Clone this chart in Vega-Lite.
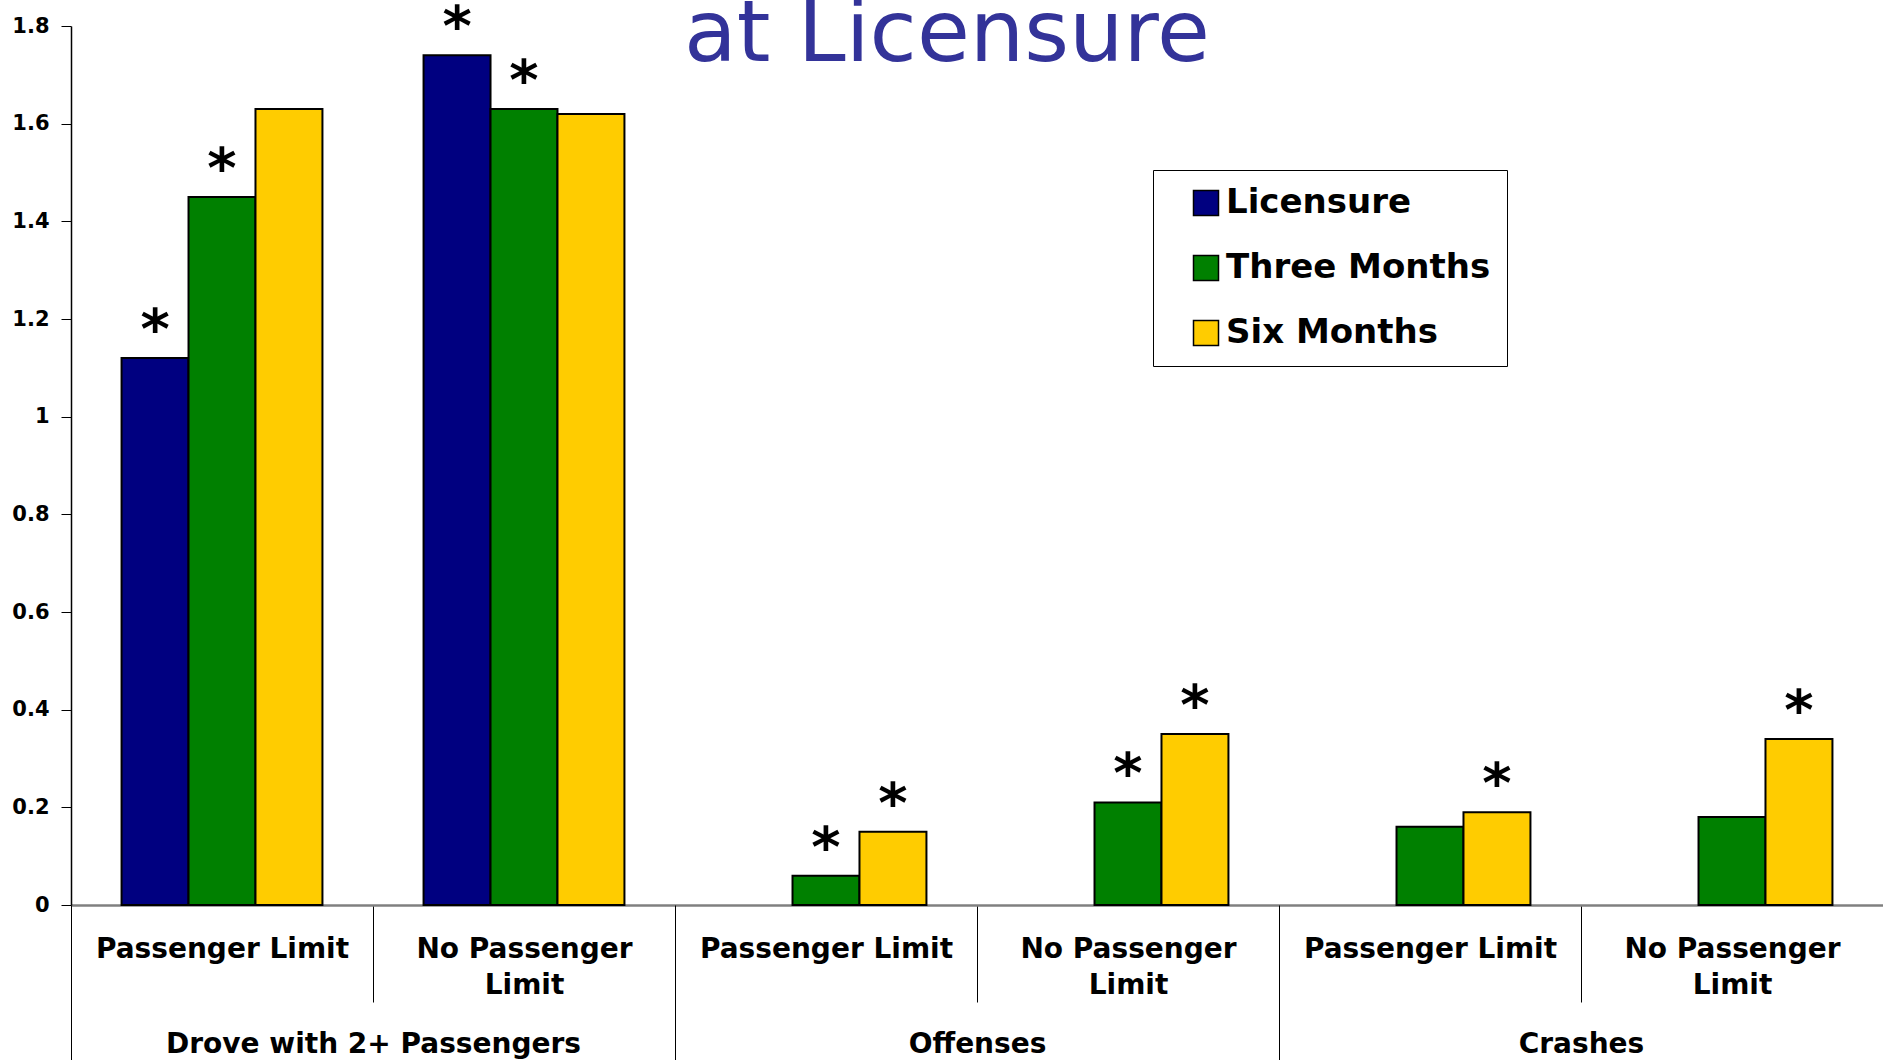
{
  "$schema": "https://vega.github.io/schema/vega-lite/v6.json",
  "width": 1812,
  "height": 879,
  "autosize": {"type": "none"},
  "padding": {"left": 71, "top": 26, "right": 0, "bottom": 155},
  "background": "white",
  "title": {
    "text": "at Licensure",
    "anchor": "middle",
    "font": "DejaVu Sans",
    "fontSize": 86,
    "fontWeight": "normal",
    "color": "#333399",
    "baseline": "bottom",
    "offset": -165,
    "dx": -30
  },
  "config": {
    "font": "DejaVu Sans",
    "view": {"stroke": null}
  },
  "data": {
    "values": [
      {"cat": "Drove with 2+ Passengers|Passenger Limit", "series": "Licensure", "value": 1.12, "star": true},
      {"cat": "Drove with 2+ Passengers|Passenger Limit", "series": "Three Months", "value": 1.45, "star": true},
      {"cat": "Drove with 2+ Passengers|Passenger Limit", "series": "Six Months", "value": 1.63, "star": false},
      {"cat": "Drove with 2+ Passengers|No Passenger Limit", "series": "Licensure", "value": 1.74, "star": true},
      {"cat": "Drove with 2+ Passengers|No Passenger Limit", "series": "Three Months", "value": 1.63, "star": true},
      {"cat": "Drove with 2+ Passengers|No Passenger Limit", "series": "Six Months", "value": 1.62, "star": false},
      {"cat": "Offenses|Passenger Limit", "series": "Three Months", "value": 0.06, "star": true},
      {"cat": "Offenses|Passenger Limit", "series": "Six Months", "value": 0.15, "star": true},
      {"cat": "Offenses|No Passenger Limit", "series": "Three Months", "value": 0.21, "star": true},
      {"cat": "Offenses|No Passenger Limit", "series": "Six Months", "value": 0.35, "star": true},
      {"cat": "Crashes|Passenger Limit", "series": "Three Months", "value": 0.16, "star": false},
      {"cat": "Crashes|Passenger Limit", "series": "Six Months", "value": 0.19, "star": true},
      {"cat": "Crashes|No Passenger Limit", "series": "Three Months", "value": 0.18, "star": false},
      {"cat": "Crashes|No Passenger Limit", "series": "Six Months", "value": 0.34, "star": true}
    ]
  },
  "encoding": {
    "y": {
      "field": "value",
      "type": "quantitative",
      "scale": {"domain": [0, 1.8], "nice": false, "zero": true},
      "axis": {
        "title": null,
        "grid": false,
        "values": [0, 0.2, 0.4, 0.6, 0.8, 1, 1.2, 1.4, 1.6, 1.8],
        "format": ".1~f",
        "labelFont": "DejaVu Sans",
        "labelFontWeight": "bold",
        "labelFontSize": 21,
        "labelColor": "black",
        "labelPadding": 12,
        "tickSize": 10,
        "tickColor": "black",
        "domainColor": "black",
        "domainWidth": 1.5
      }
    },
    "xOffset": {
      "field": "series",
      "type": "nominal",
      "scale": {"domain": ["Licensure", "Three Months", "Six Months"], "paddingInner": 0, "paddingOuter": 0.755}
    }
  },
  "layer": [
    {
      "mark": {"type": "bar", "stroke": "black", "strokeWidth": 2},
      "encoding": {
        "x": {
          "field": "cat",
          "type": "nominal",
          "scale": {
            "domain": [
              "Drove with 2+ Passengers|Passenger Limit",
              "Drove with 2+ Passengers|No Passenger Limit",
              "Offenses|Passenger Limit",
              "Offenses|No Passenger Limit",
              "Crashes|Passenger Limit",
              "Crashes|No Passenger Limit"
            ],
            "paddingInner": 0,
            "paddingOuter": 0
          },
          "axis": {
            "orient": "bottom",
            "title": null,
            "tickBand": "extent",
            "tickSize": 97,
            "tickColor": "black",
            "tickWidth": 1,
            "domainColor": "#808080",
            "domainWidth": 2.5,
            "labelAngle": 0,
            "labelExpr": "!isString(datum.value) ? '' : (indexof(datum.value, '|No Passenger Limit') >= 0 ? ['No Passenger', 'Limit'] : 'Passenger Limit')",
            "labelPadding": -67,
            "labelLineHeight": 36,
            "labelFont": "DejaVu Sans",
            "labelFontWeight": "bold",
            "labelFontSize": 28,
            "labelColor": "black",
            "labelLimit": 0,
            "labelOverlap": false
          }
        },
        "color": {
          "field": "series",
          "type": "nominal",
          "scale": {"domain": ["Licensure", "Three Months", "Six Months"], "range": ["#000080", "#008000", "#FFCC00"]},
          "legend": {
            "title": null,
            "orient": "none",
            "legendX": 1082,
            "legendY": 144,
            "symbolType": "square",
            "symbolSize": 625,
            "symbolStrokeColor": "black",
            "symbolStrokeWidth": 1.5,
            "symbolOpacity": 1,
            "labelFont": "DejaVu Sans",
            "labelFontWeight": "bold",
            "labelFontSize": 34,
            "labelColor": "black",
            "labelLimit": 0,
            "labelOffset": 3,
            "rowPadding": 31,
            "padding": 16,
            "symbolOffset": 20,
            "fillColor": "white",
            "strokeColor": "black"
          }
        }
      }
    },
    {
      "transform": [{"filter": "datum.star"}],
      "mark": {"type": "text", "text": "*", "fontSize": 56, "fontWeight": "bold", "font": "DejaVu Sans", "color": "black", "baseline": "alphabetic", "align": "center", "dy": -10},
      "encoding": {
        "x": {
          "field": "cat",
          "type": "nominal",
          "scale": {
            "domain": [
              "Drove with 2+ Passengers|Passenger Limit",
              "Drove with 2+ Passengers|No Passenger Limit",
              "Offenses|Passenger Limit",
              "Offenses|No Passenger Limit",
              "Crashes|Passenger Limit",
              "Crashes|No Passenger Limit"
            ],
            "paddingInner": 0,
            "paddingOuter": 0
          },
          "axis": {
            "orient": "bottom",
            "title": null,
            "tickBand": "extent",
            "tickSize": 155,
            "tickColor": "black",
            "tickWidth": 1,
            "tickOpacity": {"condition": {"test": "!isString(datum.value) || indexof(datum.value, '|No Passenger Limit') >= 0", "value": 1}, "value": 0},
            "domain": false,
            "labelAngle": 0,
            "labelExpr": "isString(datum.value) && indexof(datum.value, '|Passenger Limit') >= 0 ? split(datum.value, '|')[0] : ''",
            "labelOffset": 151,
            "labelPadding": -30,
            "labelFont": "DejaVu Sans",
            "labelFontWeight": "bold",
            "labelFontSize": 28,
            "labelColor": "black",
            "labelLimit": 0,
            "labelOverlap": false
          }
        }
      }
    }
  ],
  "resolve": {"axis": {"x": "independent"}}
}
